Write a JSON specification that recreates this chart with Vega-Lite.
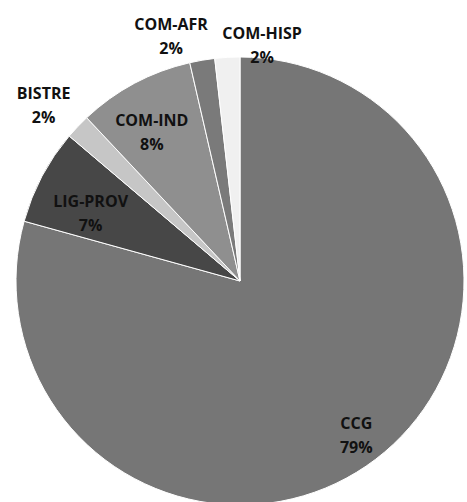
{
  "$schema": "https://vega.github.io/schema/vega-lite/v6.json",
  "width": 454,
  "height": 438,
  "padding": {"left": 13, "top": 62, "right": 0, "bottom": 2},
  "autosize": "none",
  "background": "white",
  "config": {"view": {"stroke": null}, "text": {"font": "Open Sans", "fontWeight": "bold", "fontSize": 16, "color": "#111111", "lineBreak": "\n", "lineHeight": 24}},
  "data": {"values": [
    {"name": "CCG", "value": 79.3, "rank": 1, "label": "CCG\n79%"},
    {"name": "LIG-PROV", "value": 6.9, "rank": 2, "label": "LIG-PROV\n7%"},
    {"name": "BISTRE", "value": 1.8, "rank": 3, "label": "BISTRE\n2%"},
    {"name": "COM-IND", "value": 8.4, "rank": 4, "label": "COM-IND\n8%"},
    {"name": "COM-AFR", "value": 1.8, "rank": 5, "label": "COM-AFR\n2%"},
    {"name": "COM-HISP", "value": 1.8, "rank": 6, "label": "COM-HISP\n2%"}
  ]},
  "encoding": {
    "theta": {"field": "value", "type": "quantitative", "stack": true},
    "order": {"field": "rank", "type": "quantitative"}
  },
  "layer": [
    {
      "mark": {"type": "arc", "outerRadius": 224, "stroke": "white", "strokeWidth": 1},
      "encoding": {
        "color": {"field": "name", "type": "nominal", "legend": null,
          "scale": {"domain": ["CCG", "LIG-PROV", "BISTRE", "COM-IND", "COM-AFR", "COM-HISP"],
                    "range": ["#767676", "#474747", "#c6c6c6", "#8f8f8f", "#7a7a7a", "#f0f0f0"]}}
      }
    },
    {
      "mark": {"type": "text", "radius": 192, "dy": -10},
      "encoding": {"text": {"condition": {"test": "datum.name === 'CCG'", "field": "label"}, "value": ""}}
    },
    {
      "mark": {"type": "text", "radius": 169},
      "encoding": {"text": {"condition": {"test": "datum.name === 'LIG-PROV'", "field": "label"}, "value": ""}}
    },
    {
      "mark": {"type": "text", "radius": 181, "dx": -3},
      "encoding": {"text": {"condition": {"test": "datum.name === 'COM-IND'", "field": "label"}, "value": ""}}
    },
    {
      "mark": {"type": "text", "radius": 271},
      "encoding": {"text": {"condition": {"test": "datum.name === 'BISTRE'", "field": "label"}, "value": ""}}
    },
    {
      "mark": {"type": "text", "radius": 260, "dx": -25},
      "encoding": {"text": {"condition": {"test": "datum.name === 'COM-AFR'", "field": "label"}, "value": ""}}
    },
    {
      "mark": {"type": "text", "radius": 247, "dx": 36},
      "encoding": {"text": {"condition": {"test": "datum.name === 'COM-HISP'", "field": "label"}, "value": ""}}
    }
  ]
}
